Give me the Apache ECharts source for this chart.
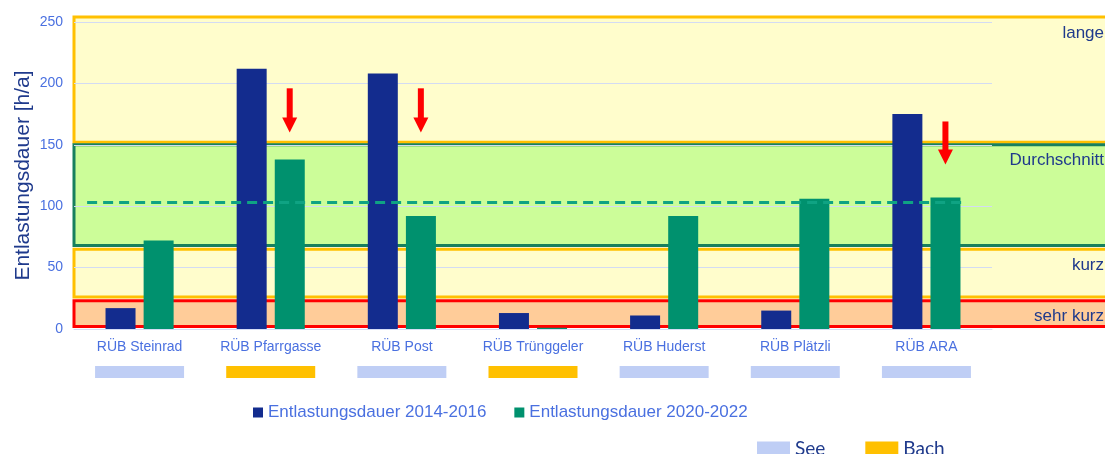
<!DOCTYPE html>
<html>
<head>
<meta charset="utf-8">
<script src="https://cdn.jsdelivr.net/npm/echarts@6/dist/echarts.min.js"></script>
<style>
html,body{margin:0;padding:0;background:#fff;}
#chart{width:1105px;height:454px;}
</style>
</head>
<body>
<div id="chart"></div>
<script>
// ---- data ----
const categories = ['RÜB Steinrad', 'RÜB Pfarrgasse', 'RÜB Post', 'RÜB Trünggeler', 'RÜB Huderst', 'RÜB Plätzli', 'RÜB ARA'];
const waterType = ['See', 'Bach', 'See', 'Bach', 'See', 'See', 'See'];
const dauer2014 = [17, 212, 208, 13, 11, 15, 175];
const dauer2020 = [72, 138, 92, 1, 92, 106, 107];
const seriesNames = ['Entlastungsdauer 2014-2016', 'Entlastungsdauer 2020-2022'];
const averageValue = 103;
const bandLabels = ['lange', 'Durchschnitt', 'kurz', 'sehr kurz'];
const bandTop = [254, 150, 65, 23];
const bandBottom = [152, 68, 26, 2];
const arrowCategory = [1, 2, 6];
const arrowFrom = [196, 196, 169];
const arrowTo = [160, 160, 134];
const yTicks = { min: 0, max: 250, interval: 50 };

// ---- styles ----
const navy = '#132C8E';
const green = '#00916E';
const blueText = '#4A70E0';
const darkText = '#1F3A8C';
const typeColors = { See: '#BFCEF5', Bach: '#FFC000' };
const bandFill = ['#FFFDCC', '#CCFD99', '#FFFDCC', '#FFCC99'];
const bandStroke = ['#FFC000', '#17805E', '#FFC000', '#FF0000'];

const chart = echarts.init(document.getElementById('chart'), null, { renderer: 'canvas' });

const gridPos = { top: 22, bottom: 125 };

const richStyles = {
  n: { color: blueText, fontSize: 14, lineHeight: 37, fontFamily: 'Liberation Sans' },
  See: { backgroundColor: typeColors.See, width: 89, height: 12, lineHeight: 12 },
  Bach: { backgroundColor: typeColors.Bach, width: 89, height: 12, lineHeight: 12 }
};

const option = {
  animation: false,
  textStyle: { fontFamily: 'Liberation Sans' },
  grid: [
    { left: 74, right: -10, top: gridPos.top, bottom: gridPos.bottom, containLabel: false, outerBoundsMode: 'none' },
    { left: 74, right: 113, top: gridPos.top, bottom: gridPos.bottom, containLabel: false, outerBoundsMode: 'none' }
  ],
  xAxis: [
    { gridIndex: 0, type: 'value', min: 0, max: 1, show: false },
    {
      gridIndex: 1, type: 'category', data: categories, z: 2,
      axisTick: { show: false },
      axisLine: { lineStyle: { color: '#D5DDF5', width: 1 } },
      axisLabel: {
        interval: 0, margin: 0, hideOverlap: false,
        formatter: function (v, i) { return '{n|' + v + '}\n{' + waterType[i] + '|}'; },
        rich: richStyles
      }
    }
  ],
  yAxis: [
    { gridIndex: 0, type: 'value', min: yTicks.min, max: yTicks.max, show: false },
    {
      gridIndex: 1, type: 'value', min: yTicks.min, max: yTicks.max, interval: yTicks.interval, z: 2,
      name: 'Entlastungsdauer [h/a]', nameLocation: 'middle', nameGap: 40, nameMoveOverlap: false,
      nameTextStyle: { fontSize: 21, color: darkText, fontFamily: 'Liberation Sans' },
      axisLine: { show: false }, axisTick: { show: false },
      axisLabel: { fontSize: 14, color: blueText, margin: 11 },
      splitLine: { lineStyle: { color: '#D3DBF3', width: 1 } }
    }
  ],
  legend: [
    {
      data: seriesNames, left: 248, top: 399, icon: 'rect', itemWidth: 10, itemHeight: 10, itemGap: 28,
      selectedMode: false,
      textStyle: { fontSize: 17, color: blueText, fontFamily: 'Liberation Sans' }
    },
    {
      data: ['See', 'Bach'], left: 752, top: 434, icon: 'rect', itemWidth: 33, itemHeight: 14, itemGap: 40,
      selectedMode: false,
      textStyle: { fontSize: 19, color: darkText, fontFamily: 'Lato' }
    }
  ],
  series: [
    {
      type: 'custom', name: 'bands', xAxisIndex: 0, yAxisIndex: 0, z: 0, silent: true, clip: false,
      data: bandTop.map((t, i) => [t, bandBottom[i]]),
      renderItem: function (params, api) {
        const i = params.dataIndex;
        const a = api.coord([0, api.value(0)]);
        const b = api.coord([1, api.value(1)]);
        return {
          type: 'group',
          children: [
            { type: 'rect', shape: { x: a[0], y: a[1], width: b[0] - a[0], height: b[1] - a[1] },
              style: { fill: bandFill[i], stroke: bandStroke[i], lineWidth: 3 } },
            { type: 'text', style: { x: api.getWidth() - 1, y: a[1] + 16, text: bandLabels[i], align: 'right',
              verticalAlign: 'middle', fill: darkText, fontSize: 17, fontFamily: 'Liberation Sans' }, z2: 10 }
          ]
        };
      }
    },
    { type: 'custom', name: 'See', xAxisIndex: 0, yAxisIndex: 0, data: [], itemStyle: { color: typeColors.See }, renderItem: function () { return null; } },
    { type: 'custom', name: 'Bach', xAxisIndex: 0, yAxisIndex: 0, data: [], itemStyle: { color: typeColors.Bach }, renderItem: function () { return null; } },
    {
      type: 'bar', name: seriesNames[0], xAxisIndex: 1, yAxisIndex: 1, z: 3, data: dauer2014,
      barWidth: 30, barGap: '27%', itemStyle: { color: navy }
    },
    {
      type: 'bar', name: seriesNames[1], xAxisIndex: 1, yAxisIndex: 1, z: 3, data: dauer2020,
      barWidth: 30, barGap: '27%', itemStyle: { color: green }
    },
    {
      type: 'custom', name: 'avg', xAxisIndex: 1, yAxisIndex: 1, z: 5, silent: true, clip: false,
      data: [[0, averageValue]],
      renderItem: function (params, api) {
        const s = api.coord([0, api.value(1)]);
        const e = api.coord([categories.length - 1, api.value(1)]);
        const bw = api.size([1, 0])[0];
        return { type: 'line', shape: { x1: s[0] - 0.4 * bw, y1: s[1], x2: e[0] + 0.3 * bw, y2: e[1] },
          style: { stroke: '#0FA383', lineWidth: 3, lineDash: [10, 6] } };
      }
    },
    {
      type: 'custom', name: 'arrows', xAxisIndex: 1, yAxisIndex: 1, z: 6, silent: true, clip: false,
      data: arrowCategory.map((c, i) => [c, arrowFrom[i], arrowTo[i]]),
      renderItem: function (params, api) {
        const p1 = api.coord([api.value(0), api.value(1)]);
        const p2 = api.coord([api.value(0), api.value(2)]);
        const x = p1[0] + 19;
        const head = 15;
        return {
          type: 'group',
          children: [
            { type: 'rect', shape: { x: x - 3, y: p1[1], width: 6, height: p2[1] - head - p1[1] + 1 }, style: { fill: '#FF0000' } },
            { type: 'polygon', shape: { points: [[x - 7.5, p2[1] - head], [x + 7.5, p2[1] - head], [x, p2[1]]] }, style: { fill: '#FF0000' } }
          ]
        };
      }
    }
  ]
};
chart.setOption(option);
</script>
</body>
</html>
